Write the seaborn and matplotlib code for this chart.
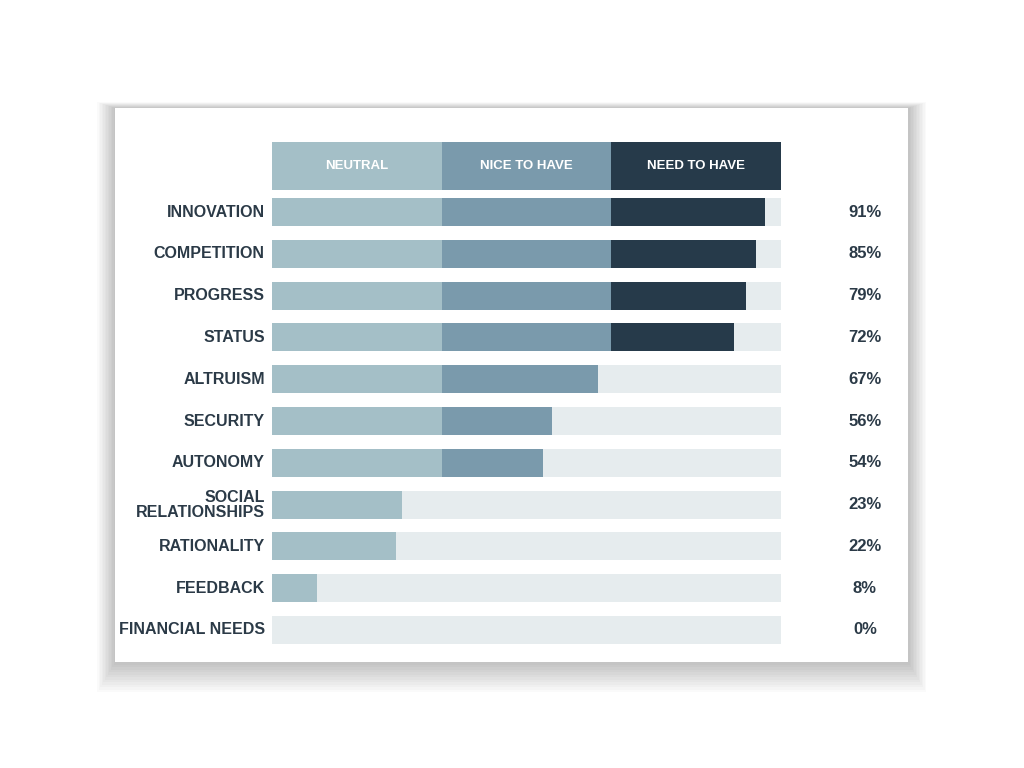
import matplotlib
matplotlib.use("Agg")
import matplotlib.pyplot as plt
import seaborn as sns
import pandas as pd
from matplotlib.patches import Rectangle

categories = ["INNOVATION", "COMPETITION", "PROGRESS", "STATUS", "ALTRUISM", "SECURITY",
              "AUTONOMY", "SOCIAL\nRELATIONSHIPS", "RATIONALITY", "FEEDBACK", "FINANCIAL NEEDS"]
labels = ["91%", "85%", "79%", "72%", "67%", "56%", "54%", "23%", "22%", "8%", "0%"]
# bar length as fraction of the full track
lengths = [0.969, 0.951, 0.931, 0.908, 0.640, 0.550, 0.532, 0.255, 0.244, 0.088, 0.0]
zones = ["NEUTRAL", "NICE TO HAVE", "NEED TO HAVE"]

C_NEU, C_NICE, C_NEED, C_BG = "#a4bfc7", "#7a9aac", "#263a4a", "#e6ecee"
TXT = "#2b3a47"

sns.set_style("white")
plt.rcParams['font.family'] = ['Liberation Sans', 'DejaVu Sans']

fig = plt.figure(figsize=(10.24, 7.68), dpi=100)
fig.patch.set_facecolor("white")
# card shadow + card
for i in range(12, 0, -1):
    fig.patches.append(Rectangle(((115 - i*1.5)/1024, 1 - (662 + i*2.5)/768),
                                 (793 + i*3)/1024, (554 + i*3)/768, transform=fig.transFigure,
                                 facecolor="black", alpha=0.018, edgecolor="none", zorder=0))
fig.patches.append(Rectangle((115/1024, 1 - 662/768), 793/1024, 554/768,
                             transform=fig.transFigure, facecolor="white", edgecolor="none", zorder=1))

ax = fig.add_axes([272/1024, 1 - 644/768, 509/1024, 502/768])
ax.set_facecolor("none")
ax.set_zorder(2)

df = pd.DataFrame({"cat": categories, "len": lengths})
df["bg"] = 1.0
df["nice"] = df["len"].clip(upper=2/3)
df["neu"] = df["len"].clip(upper=1/3)
for col, c in [("bg", C_BG), ("len", C_NEED), ("nice", C_NICE), ("neu", C_NEU)]:
    sns.barplot(data=df, y="cat", x=col, order=categories, color=c, width=0.67,
                orient="h", ax=ax, saturation=1, linewidth=0)

# header
for j, (z, c) in enumerate(zip(zones, [C_NEU, C_NICE, C_NEED])):
    ax.barh(-1.1, 1/3, left=j/3, height=1.15, color=c, linewidth=0)
    ax.text(j/3 + 1/6, -1.1, z, ha="center", va="center", color="white",
            fontsize=9.5, fontweight="bold")

for i, (cat, lab) in enumerate(zip(categories, labels)):
    ax.text(-0.014, i, cat, ha="right", va="center", multialignment="right",
            fontsize=11.5, fontweight="bold", color=TXT, linespacing=1.0)
    ax.text(1.165, i, lab, ha="center", va="center", fontsize=12,
            fontweight="bold", color=TXT)

ax.set_xlim(0, 1)
ax.set_ylim(10.335, -1.675)
ax.set_axis_off()
fig.savefig("out.png", dpi=100, facecolor="white")
